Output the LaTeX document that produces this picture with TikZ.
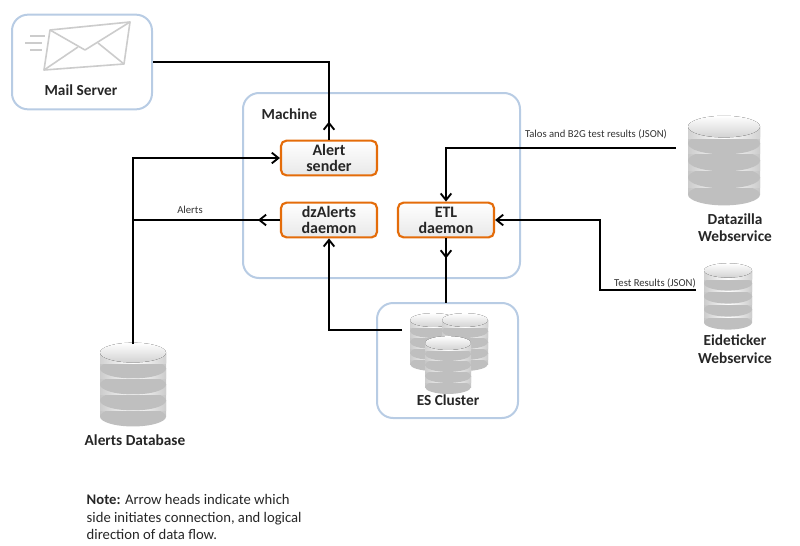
\documentclass[tikz,border=0pt]{standalone}
\usepackage{fontspec}
\setmainfont{Carlito}
\usetikzlibrary{arrows.meta, positioning, shapes.geometric}
\definecolor{frame}{RGB}{184,204,228}
\definecolor{comp}{RGB}{228,108,10}
\tikzset{>={Straight Barb[length=5pt,width=8pt]},
  group/.style={draw=frame, line width=1.5pt, rounded corners=12pt, fill=white, inner sep=0pt},
  comp/.style={draw=comp, line width=1.6pt, rounded corners=4pt, top color=white, bottom color=gray!18,
    minimum width=72pt, minimum height=26pt, inner sep=1pt, align=center,
    font=\fontsize{12}{12}\selectfont\bfseries, text=black!85},
  title/.style={font=\fontsize{11.5}{13}\selectfont\bfseries, align=center, text=black!85},
  flow/.style={line width=1.4pt},
  tag/.style={font=\fontsize{8}{9}\selectfont, text=black!80},
  anchorbox/.style={inner sep=0pt, minimum width=#1},
}
% database stack: centre top, half width, layer height
\newcommand{\dbstack}[4]{%
  \begin{scope}[shift={(#1,#2)}]
    \foreach \k in {3,2,1,0}{
      \fill[left color=gray!45, right color=gray!45, middle color=gray!5] (-#3,\k*#4+0.35*#3) rectangle (#3,\k*#4+#4+0.35*#3);
      \fill[gray!50] (0,\k*#4+#4+0.35*#3) ellipse ({#3} and {0.3*#3});
      \fill[left color=gray!40, right color=gray!40, middle color=white] (-#3,\k*#4+0.35*#3) rectangle (#3,\k*#4+0.6*#4+0.35*#3);
    }
    \fill[left color=gray!35, right color=gray!35, middle color=white] (-#3,0.35*#3) rectangle (#3,0.7*#4+0.35*#3);
    \fill[top color=white, bottom color=gray!35] (0,0.35*#3) ellipse ({#3} and {0.3*#3});
  \end{scope}}
\begin{document}
\begin{tikzpicture}[x=0.75pt, y=-0.75pt]
  \useasboundingbox (0,0) rectangle (800,546);
  % groups
  \node[group, minimum width=105pt, minimum height=71pt] (mailbox) at (82,62) {};
  \draw[group] (243,93) rectangle (520,278);
  \draw[group] (377,303) rectangle (518,418);
  \node[title, anchor=west] (machine) at (257,114) {Machine};
  % mail icon
  \begin{scope}[draw=gray!40, line width=1.2pt, line join=round]
    \draw (50,30) -- (130,22) -- (124,64) -- (44,70) -- cycle;
    \draw (50,30) -- (85,50) -- (130,22);
    \draw (44,70) -- (78,47) (124,64) -- (98,43);
    \draw (30,36) -- (45,36) (25,43) -- (42,43) (30,50) -- (42,50);
  \end{scope}
  \node[title] (mail) at (81,90) {Mail Server};
  % components
  \node[comp] (sender) at (329,158) {Alert\\sender};
  \node[comp] (dzalerts) at (329,220) {dzAlerts\\daemon};
  \node[comp] (etl) at (446,220) {ETL\\daemon};
  % databases
  \dbstack{724}{114}{36}{17}
  \node[anchorbox=72pt] (datazilla) at (724,150) {};
  \node[title] (dzlabel) at (735,228) {Datazilla\\Webservice};
  \dbstack{728}{262}{24}{13}
  \node[anchorbox=48pt] (eideticker) at (728,290) {};
  \node[title] (eidlabel) at (735,349) {Eideticker\\Webservice};
  \dbstack{433}{312}{23}{11}
  \dbstack{465}{312}{23}{11}
  \dbstack{448}{335}{23}{11}
  \node[anchorbox=46pt] (es) at (433,330) {};
  \node[title] (eslabel) at (448,400) {ES Cluster};
  \dbstack{133}{341}{33}{16}
  \node[anchorbox=66pt] (alertsdb) at (133,345) {};
  \node[title] (adblabel) at (135,440) {Alerts Database};
  % connectors
  \draw[flow] (sender.north) |- (mailbox.east);
  \draw[flow,->] (sender.north) -- ++(0,-18);
  \draw[flow,->] (alertsdb.north) |- (sender.west);
  \draw[flow] (dzalerts.west) -- (133,220);
  \draw[flow,->] (dzalerts.west) -- ++(-22,0);
  \node[tag] (alertstag) at (190,210) {Alerts};
  \draw[flow,->] (es.west) -| (dzalerts.south);
  \draw[flow] (etl.south) -- (446,303);
  \draw[flow,->] (etl.south) -- ++(0,20);
  \draw[flow,->] (datazilla.west |- 0,148) -| (etl.north);
  \node[tag] (talostag) at (596,134) {Talos and B2G test results (JSON)};
  \draw[flow,->] (eideticker.west) -| (600,220) -- (etl.east);
  \node[tag] (testtag) at (655,283) {Test Results (JSON)};
  % note
  \node[font=\fontsize{11}{13}\selectfont, align=left, anchor=north west, text=black!85] (note) at (82,490)
    {\textbf{Note:} Arrow heads indicate which\\side initiates connection, and logical\\direction of data flow.};
\end{tikzpicture}
\end{document}
